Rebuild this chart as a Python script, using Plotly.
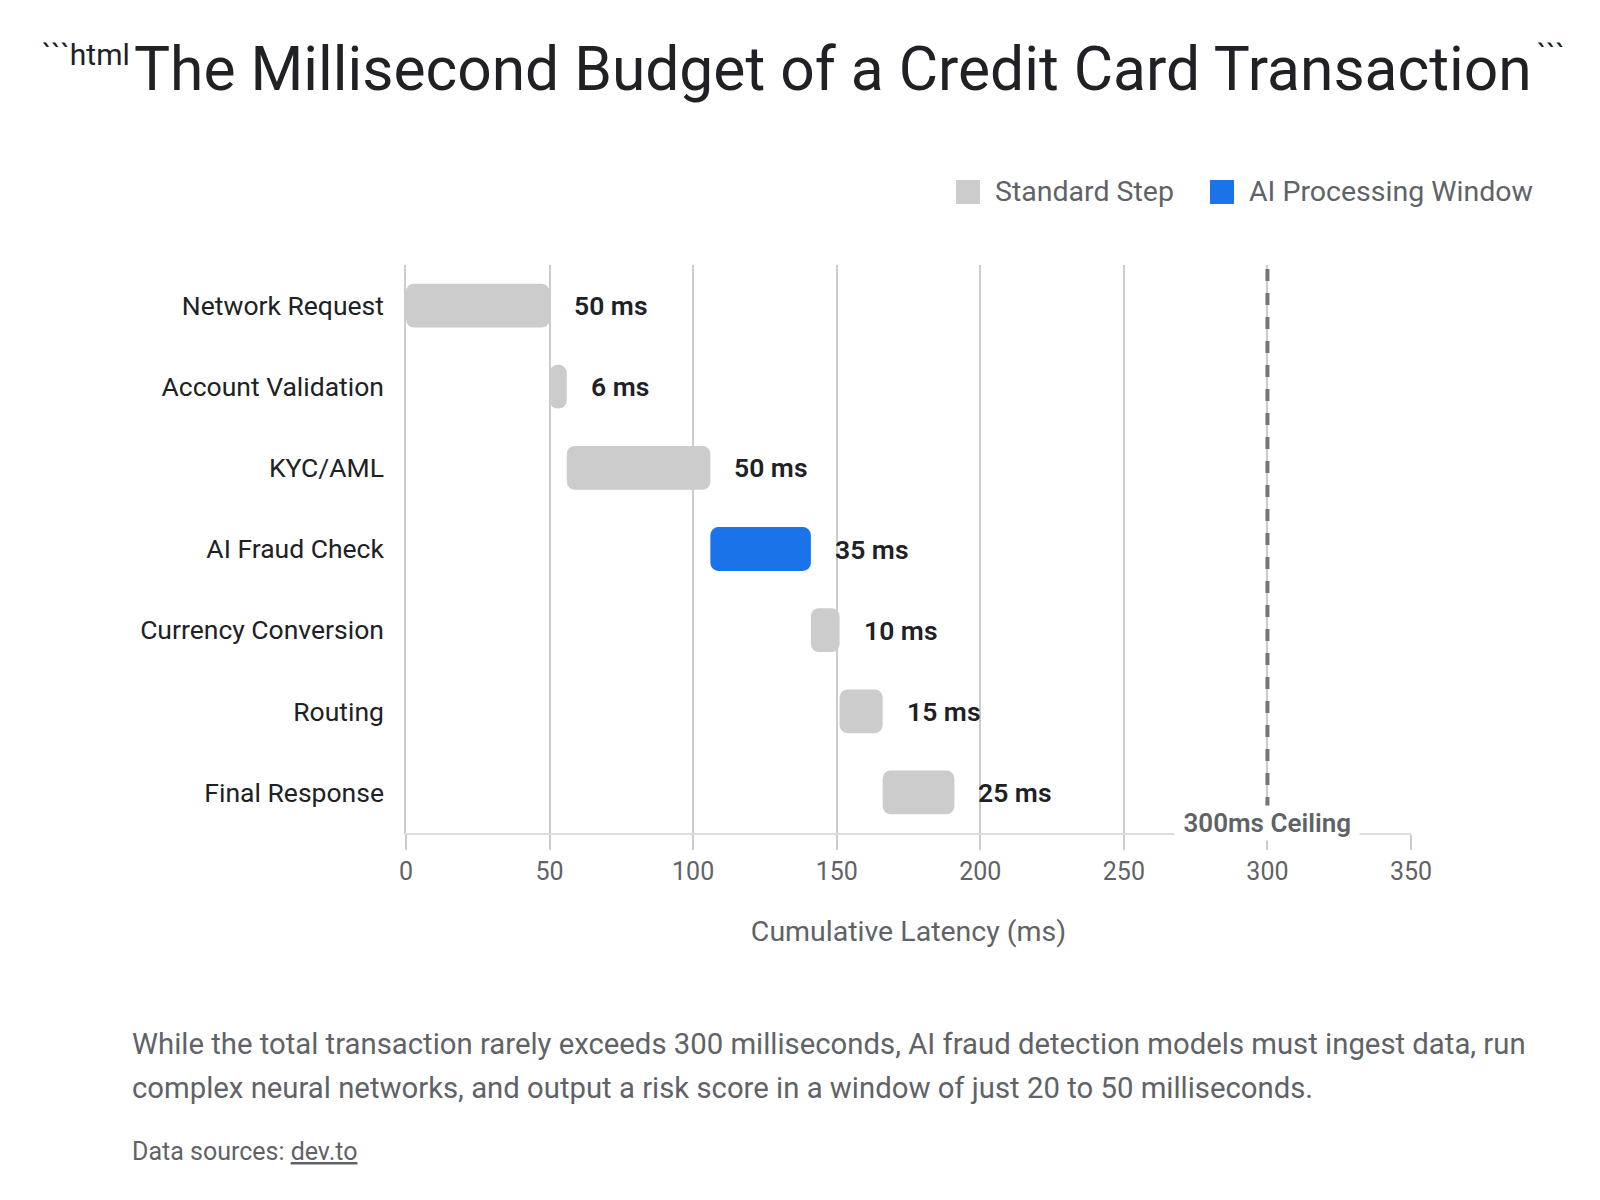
import plotly.graph_objects as go

# ---- data ----
steps = ["Network Request", "Account Validation", "KYC/AML", "AI Fraud Check",
         "Currency Conversion", "Routing", "Final Response"]
durations = [50, 6, 50, 35, 10, 15, 25]
step_type = ["Standard Step", "Standard Step", "Standard Step", "AI Processing Window",
             "Standard Step", "Standard Step", "Standard Step"]
ceiling_ms = 300
x_ticks = [0, 50, 100, 150, 200, 250, 300, 350]

starts = []
acc = 0
for d in durations:
    starts.append(acc)
    acc += d
ends = [s + d for s, d in zip(starts, durations)]

# ---- styling ----
FONT = "Google Sans, Roboto, Arial, sans-serif"
GREY_BAR = "#cccccc"
BLUE = "#1a73e8"
DARK = "#202124"
MID = "#5f6368"
colors = {"Standard Step": GREY_BAR, "AI Processing Window": BLUE}

W, H = 1600, 1200
L, R, T, B = 406, 1411, 265, 833


def xp(px):
    return (px - L) / (R - L)


def yp(py):
    return (B - py) / (B - T)


fig = go.Figure()
fig.add_trace(go.Bar(
    y=steps, x=durations, base=starts, orientation="h",
    marker=dict(color=[colors[t] for t in step_type], line=dict(width=0)),
    width=0.54, showlegend=False, hoverinfo="skip",
))

annotations = []
for s, e, d in zip(steps, ends, durations):
    annotations.append(dict(
        x=e, y=s, xref="x", yref="y", text=f"{d} ms", showarrow=False,
        xanchor="left", yanchor="middle", xshift=22,
        font=dict(family=FONT, size=26.5, color=DARK, weight=600),
    ))

# ceiling label
annotations.append(dict(
    x=ceiling_ms, y=yp(823), xref="x", yref="paper",
    text="\u00a0300ms Ceiling\u00a0", showarrow=False,
    xanchor="center", yanchor="middle", bgcolor="white", borderpad=2,
    font=dict(family=FONT, size=26, color=MID, weight=600),
))

# title pieces
annotations.append(dict(
    x=xp(132), y=yp(69), xref="paper", yref="paper",
    text="The Millisecond Budget of a Credit Card Transaction", showarrow=False,
    xanchor="left", yanchor="middle",
    font=dict(family=FONT, size=60.5, color=DARK),
))
annotations.append(dict(
    x=xp(132), y=yp(54), xref="paper", yref="paper",
    text="```html", showarrow=False, xanchor="right", yanchor="middle",
    font=dict(family=FONT, size=30, color=DARK),
))
annotations.append(dict(
    x=xp(1535), y=yp(54), xref="paper", yref="paper",
    text="```", showarrow=False, xanchor="left", yanchor="middle",
    font=dict(family=FONT, size=30, color=DARK),
))

# legend (manual)
legend_items = [("Standard Step", GREY_BAR, 956), ("AI Processing Window", BLUE, 1210)]
shapes = []
for name, col, px in legend_items:
    shapes.append(dict(
        type="rect", xref="paper", yref="paper",
        x0=xp(px), x1=xp(px + 24), y0=yp(204), y1=yp(180),
        fillcolor=col, line=dict(width=0), layer="above",
    ))
    annotations.append(dict(
        x=xp(px + 37), y=yp(192), xref="paper", yref="paper", text=name,
        showarrow=False, xanchor="left", yanchor="middle",
        font=dict(family=FONT, size=28.5, color=MID),
    ))

# ceiling dashed line
shapes.append(dict(
    type="line", xref="x", yref="paper", x0=ceiling_ms, x1=ceiling_ms, y0=0, y1=1,
    line=dict(color="#757575", width=4, dash="12px,12px"), layer="above",
))

# caption and sources
annotations.append(dict(
    x=xp(130), y=yp(1044), xref="paper", yref="paper",
    text="While the total transaction rarely exceeds 300 milliseconds, AI fraud detection models must ingest data, run",
    showarrow=False, xanchor="left", yanchor="middle",
    font=dict(family=FONT, size=29.3, color=MID),
))
annotations.append(dict(
    x=xp(130), y=yp(1088), xref="paper", yref="paper",
    text="complex neural networks, and output a risk score in a window of just 20 to 50 milliseconds.",
    showarrow=False, xanchor="left", yanchor="middle",
    font=dict(family=FONT, size=29.3, color=MID),
))
annotations.append(dict(
    x=xp(130), y=yp(1151), xref="paper", yref="paper",
    text="Data sources: <u>dev.to</u>",
    showarrow=False, xanchor="left", yanchor="middle",
    font=dict(family=FONT, size=25, color=MID),
))

fig.update_layout(
    width=W, height=H,
    margin=dict(l=L, r=W - R, t=T, b=H - B, autoexpand=False),
    paper_bgcolor="white", plot_bgcolor="white",
    barcornerradius=8,
    showlegend=False,
    annotations=annotations, shapes=shapes,
    font=dict(family=FONT),
    xaxis=dict(
        range=[0, 350], tickvals=x_ticks, ticktext=[str(v) for v in x_ticks],
        showgrid=True, gridcolor="#cccccc", gridwidth=1.5,
        zeroline=False, showline=True, linecolor="#dddddd", linewidth=2,
        ticks="outside", ticklen=15, tickcolor="#cccccc", tickwidth=1.5,
        tickfont=dict(family=FONT, size=25, color=MID),
        title=dict(text="Cumulative Latency (ms)", standoff=36,
                   font=dict(family=FONT, size=28.5, color=MID)),
        fixedrange=True,
    ),
    yaxis=dict(
        range=[6.5, -0.5], showgrid=False, zeroline=False,
        showline=True, linecolor="#cccccc", linewidth=1.5,
        ticks="", ticklabelstandoff=15,
        tickfont=dict(family=FONT, size=26.5, color=DARK),
        fixedrange=True,
    ),
)

fig.write_html("out.html", config={"displayModeBar": False})
